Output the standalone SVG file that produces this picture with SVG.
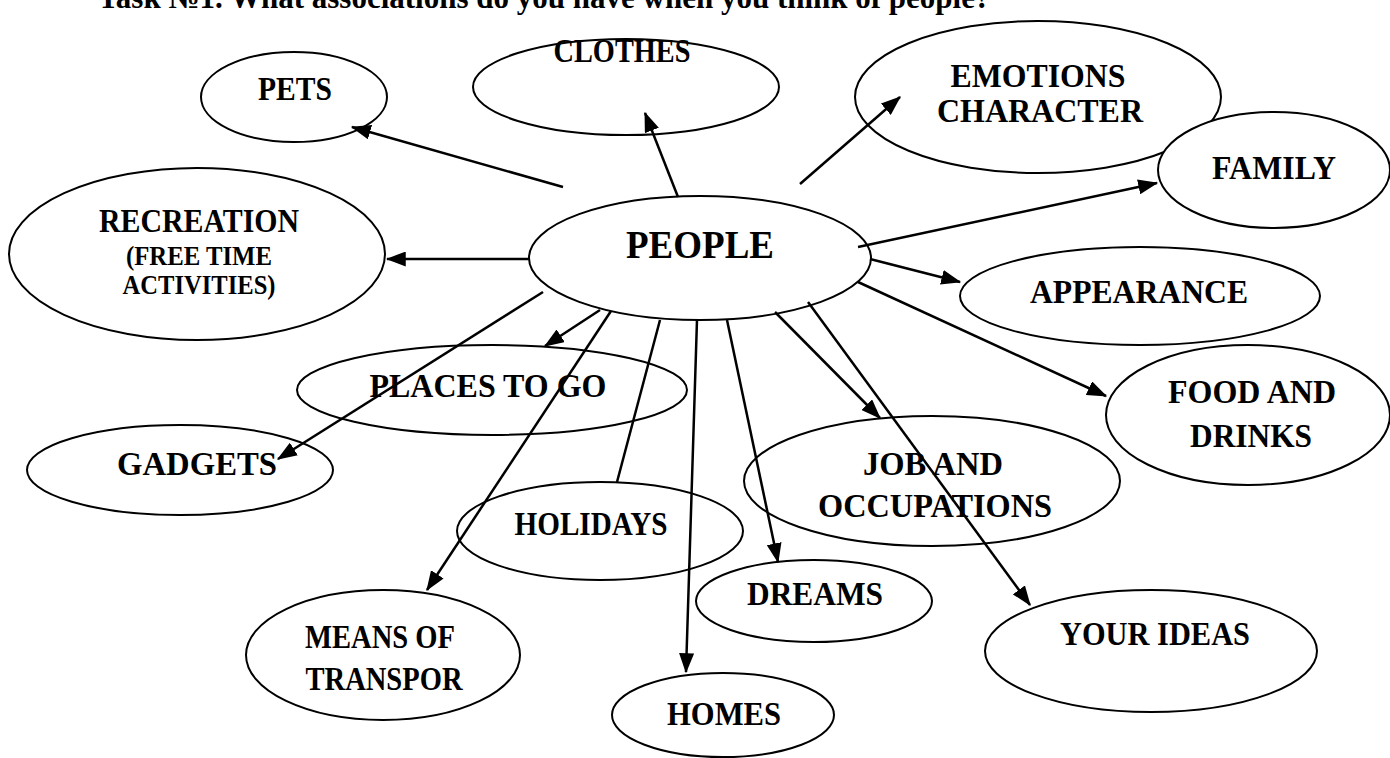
<svg xmlns="http://www.w3.org/2000/svg" width="1390" height="758" viewBox="0 0 1390 758">
<style>
.n ellipse{fill:#fff;stroke:#000;stroke-width:2}
.n text{font-family:"Liberation Serif","Times New Roman",serif;font-weight:bold;font-size:33px;fill:#000;text-anchor:middle}
.c line{stroke:#000;stroke-width:2.5}
.t{font-family:"Liberation Serif","Times New Roman",serif;font-weight:bold;font-size:31px;fill:#000}
</style>
<defs>
<marker id="ah" markerWidth="8" markerHeight="6" refX="7.5" refY="3" orient="auto" markerUnits="strokeWidth">
<path d="M0,0 L8,3 L0,6 Z" fill="#000"/>
</marker>
</defs>
<rect width="1390" height="758" fill="#fff"/>
<text class="t" x="98" y="8">Task №1. What associations do you have when you think of people?</text>
<g class="n">
<g id="pets"><ellipse cx="294" cy="97" rx="93" ry="45"/><text x="295" y="100" textLength="74" lengthAdjust="spacingAndGlyphs">PETS</text></g>
<g id="clothes"><ellipse cx="626" cy="87" rx="153" ry="48"/><text x="622" y="62" textLength="137" lengthAdjust="spacingAndGlyphs">CLOTHES</text></g>
<g id="emotions"><ellipse cx="1038" cy="97" rx="183" ry="76"/><text x="1038" y="87" textLength="175" lengthAdjust="spacingAndGlyphs">EMOTIONS</text><text x="1040" y="122" textLength="206" lengthAdjust="spacingAndGlyphs">CHARACTER</text></g>
<g id="family"><ellipse cx="1274" cy="170" rx="116" ry="58"/><text x="1274" y="179" textLength="124" lengthAdjust="spacingAndGlyphs">FAMILY</text></g>
<g id="appearance"><ellipse cx="1140" cy="296" rx="180" ry="49"/><text x="1139" y="303" textLength="218" lengthAdjust="spacingAndGlyphs">APPEARANCE</text></g>
<g id="food"><ellipse cx="1248" cy="415" rx="142" ry="70"/><text x="1252" y="403" textLength="168" lengthAdjust="spacingAndGlyphs">FOOD AND</text><text x="1251" y="447" textLength="122" lengthAdjust="spacingAndGlyphs">DRINKS</text></g>
<g id="job"><ellipse cx="932" cy="481" rx="188" ry="65"/><text x="933" y="475" textLength="140" lengthAdjust="spacingAndGlyphs">JOB AND</text><text x="935" y="517" textLength="234" lengthAdjust="spacingAndGlyphs">OCCUPATIONS</text></g>
<g id="ideas"><ellipse cx="1151" cy="651" rx="166" ry="61"/><text x="1155" y="645" textLength="190" lengthAdjust="spacingAndGlyphs">YOUR IDEAS</text></g>
<g id="dreams"><ellipse cx="814" cy="601" rx="118" ry="41"/><text x="815" y="605" textLength="136" lengthAdjust="spacingAndGlyphs">DREAMS</text></g>
<g id="homes"><ellipse cx="723" cy="715" rx="111" ry="42"/><text x="724" y="725" textLength="114" lengthAdjust="spacingAndGlyphs">HOMES</text></g>
<g id="holidays"><ellipse cx="600" cy="531" rx="143" ry="49"/><text x="591" y="535" textLength="153" lengthAdjust="spacingAndGlyphs">HOLIDAYS</text></g>
<g id="transport"><ellipse cx="383" cy="655" rx="137" ry="65"/><text x="380" y="648" textLength="150" lengthAdjust="spacingAndGlyphs">MEANS OF</text><text x="384" y="690" textLength="157" lengthAdjust="spacingAndGlyphs">TRANSPOR</text></g>
<g id="gadgets"><ellipse cx="180" cy="470" rx="153" ry="45"/><text x="197" y="475" textLength="160" lengthAdjust="spacingAndGlyphs">GADGETS</text></g>
<g id="places"><ellipse cx="492" cy="390" rx="195" ry="45"/><text x="488" y="397" textLength="237" lengthAdjust="spacingAndGlyphs">PLACES TO GO</text></g>
<g id="recreation"><ellipse cx="197" cy="254" rx="188" ry="86"/><text x="199" y="232" textLength="200" lengthAdjust="spacingAndGlyphs">RECREATION</text><text x="199" y="265" style="font-size:27px" textLength="146" lengthAdjust="spacingAndGlyphs">(FREE TIME</text><text x="199" y="294" style="font-size:27px" textLength="153" lengthAdjust="spacingAndGlyphs">ACTIVITIES)</text></g>
<g id="people"><ellipse cx="700" cy="258" rx="171" ry="62"/><text x="700" y="258" style="font-size:39px" textLength="148" lengthAdjust="spacingAndGlyphs">PEOPLE</text></g>
</g>
<g class="c">
<line x1="563" y1="187" x2="352" y2="127" marker-end="url(#ah)"/>
<line x1="678" y1="197" x2="645" y2="113" marker-end="url(#ah)"/>
<line x1="800" y1="184" x2="900" y2="97" marker-end="url(#ah)"/>
<line x1="858" y1="247" x2="1157" y2="183" marker-end="url(#ah)"/>
<line x1="870" y1="259" x2="960" y2="282" marker-end="url(#ah)"/>
<line x1="858" y1="282" x2="1106" y2="396" marker-end="url(#ah)"/>
<line x1="775" y1="312" x2="880" y2="418" marker-end="url(#ah)"/>
<line x1="808" y1="302" x2="1030" y2="605" marker-end="url(#ah)"/>
<line x1="727" y1="320" x2="778" y2="562" marker-end="url(#ah)"/>
<line x1="697" y1="320" x2="686" y2="672" marker-end="url(#ah)"/>
<line x1="660" y1="320" x2="617" y2="482"/>
<line x1="611" y1="311" x2="427" y2="590" marker-end="url(#ah)"/>
<line x1="600" y1="310" x2="545" y2="346" marker-end="url(#ah)"/>
<line x1="543" y1="292" x2="278" y2="459" marker-end="url(#ah)"/>
<line x1="530" y1="259" x2="387" y2="259" marker-end="url(#ah)"/>
</g>
</svg>
